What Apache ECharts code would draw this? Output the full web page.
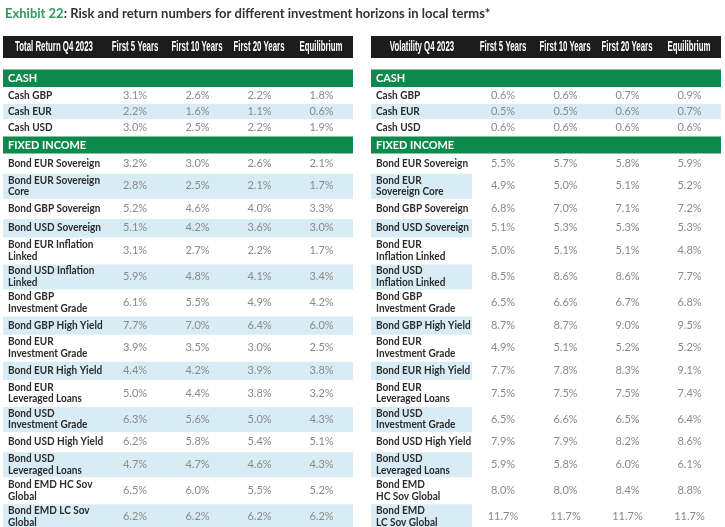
<!DOCTYPE html>
<html>
<head>
<meta charset="utf-8">
<script src="https://cdn.jsdelivr.net/npm/echarts@6/dist/echarts.min.js"></script>
<style>
  html, body { margin: 0; padding: 0; background: #fff; }
  #chart { width: 725px; height: 527px; }
</style>
</head>
<body>
<div id="chart"></div>
<script>
// table contents
const titleLead = 'Exhibit 22'
const titleRest = ': Risk and return numbers for different investment horizons in local terms*'
const tableTitles = ['Total Return Q4 2023', 'Volatility Q4 2023']
const columns = ['First 5 Years', 'First 10 Years', 'First 20 Years', 'Equilibrium']
const sections = ['CASH', 'FIXED INCOME']

const cashLabels = ['Cash GBP', 'Cash EUR', 'Cash USD']
const cashReturn = [
  [3.1, 2.6, 2.2, 1.8],
  [2.2, 1.6, 1.1, 0.6],
  [3.0, 2.5, 2.2, 1.9]
]
const cashVolatility = [
  [0.6, 0.6, 0.7, 0.9],
  [0.5, 0.5, 0.6, 0.7],
  [0.6, 0.6, 0.6, 0.6]
]

const bondLabelsReturn = [
  'Bond EUR Sovereign', 'Bond EUR Sovereign\nCore', 'Bond GBP Sovereign', 'Bond USD Sovereign',
  'Bond EUR Inflation\nLinked', 'Bond USD Inflation\nLinked', 'Bond GBP\nInvestment Grade',
  'Bond GBP High Yield', 'Bond EUR\nInvestment Grade', 'Bond EUR High Yield',
  'Bond EUR\nLeveraged Loans', 'Bond USD\nInvestment Grade', 'Bond USD High Yield',
  'Bond USD\nLeveraged Loans', 'Bond EMD HC Sov\nGlobal', 'Bond EMD LC Sov\nGlobal'
]
const bondLabelsVolatility = [
  'Bond EUR Sovereign', 'Bond EUR\nSovereign Core', 'Bond GBP Sovereign', 'Bond USD Sovereign',
  'Bond EUR\nInflation Linked', 'Bond USD\nInflation Linked', 'Bond GBP\nInvestment Grade',
  'Bond GBP High Yield', 'Bond EUR\nInvestment Grade', 'Bond EUR High Yield',
  'Bond EUR\nLeveraged Loans', 'Bond USD\nInvestment Grade', 'Bond USD High Yield',
  'Bond USD\nLeveraged Loans', 'Bond EMD\nHC Sov Global', 'Bond EMD\nLC Sov Global'
]
const bondReturn = [
  [3.2, 3.0, 2.6, 2.1],
  [2.8, 2.5, 2.1, 1.7],
  [5.2, 4.6, 4.0, 3.3],
  [5.1, 4.2, 3.6, 3.0],
  [3.1, 2.7, 2.2, 1.7],
  [5.9, 4.8, 4.1, 3.4],
  [6.1, 5.5, 4.9, 4.2],
  [7.7, 7.0, 6.4, 6.0],
  [3.9, 3.5, 3.0, 2.5],
  [4.4, 4.2, 3.9, 3.8],
  [5.0, 4.4, 3.8, 3.2],
  [6.3, 5.6, 5.0, 4.3],
  [6.2, 5.8, 5.4, 5.1],
  [4.7, 4.7, 4.6, 4.3],
  [6.5, 6.0, 5.5, 5.2],
  [6.2, 6.2, 6.2, 6.2]
]
const bondVolatility = [
  [5.5, 5.7, 5.8, 5.9],
  [4.9, 5.0, 5.1, 5.2],
  [6.8, 7.0, 7.1, 7.2],
  [5.1, 5.3, 5.3, 5.3],
  [5.0, 5.1, 5.1, 4.8],
  [8.5, 8.6, 8.6, 7.7],
  [6.5, 6.6, 6.7, 6.8],
  [8.7, 8.7, 9.0, 9.5],
  [4.9, 5.1, 5.2, 5.2],
  [7.7, 7.8, 8.3, 9.1],
  [7.5, 7.5, 7.5, 7.4],
  [6.5, 6.6, 6.5, 6.4],
  [7.9, 7.9, 8.2, 8.6],
  [5.9, 5.8, 6.0, 6.1],
  [8.0, 8.0, 8.4, 8.8],
  [11.7, 11.7, 11.7, 11.7]
]

// layout (px)
const tables = [
  { x0: 3, labels: { cash: cashLabels, bond: bondLabelsReturn }, values: { cash: cashReturn, bond: bondReturn }, shadeLabelOnly: false },
  { x0: 371, labels: { cash: cashLabels, bond: bondLabelsVolatility }, values: { cash: cashVolatility, bond: bondVolatility }, shadeLabelOnly: true }
]
const tableWidth = 350
const labelColWidth = 101
const headCenters = [51, 132, 194, 256, 318]
const valueCenters = [132, 194.5, 256.5, 318.5]

const green = '#0b8a4c'
const shade = '#d8ecf6'

// build the row list
const rows = []
let y = 36
rows.push({ kind: 'head', top: y, h: 22 })
y = 69.5
rows.push({ kind: 'section', name: sections[0], top: y, h: 17.5 })
y += 17.5
cashLabels.forEach((_, i) => {
  rows.push({ kind: 'cash', idx: i, top: y, h: 16 })
  y += 16
})
y += 1.5
rows.push({ kind: 'section', name: sections[1], top: y, h: 17 })
y += 17
bondLabelsReturn.forEach((lab, i) => {
  const two = lab.indexOf('\n') >= 0 || bondLabelsVolatility[i].indexOf('\n') >= 0
  const h = two ? 26 : 19.3
  rows.push({ kind: 'bond', idx: i, top: y, h: h })
  y += h
})

const fmt = v => v.toFixed(1) + '%'

function renderItem(params, api) {
  const row = rows[params.dataIndex]
  const children = []
  tables.forEach((t, ti) => {
    const p0 = api.coord([t.x0, row.top])
    const p1 = api.coord([t.x0 + tableWidth, row.top + row.h])
    const w = p1[0] - p0[0]
    const h = p1[1] - p0[1]
    const mid = p0[1] + h / 2
    if (row.kind === 'head') {
      children.push({ type: 'rect', shape: { x: p0[0], y: p0[1], width: w, height: h }, style: { fill: '#1c1c1c' } })
      const names = [tableTitles[ti]].concat(columns)
      names.forEach((n, ci) => {
        children.push({
          type: 'text', x: p0[0] + headCenters[ci], y: mid + 0.5, scaleX: 0.56,
          style: { text: n, fill: '#ffffff', font: 'bold 14px "Liberation Sans"', align: 'center', verticalAlign: 'middle' }
        })
      })
    } else if (row.kind === 'section') {
      children.push({ type: 'rect', shape: { x: p0[0], y: p0[1], width: w, height: h }, style: { fill: green } })
      children.push({
        type: 'text', x: p0[0] + 5, y: mid, scaleX: 0.95,
        style: { text: row.name, fill: '#ffffff', font: 'bold 11.5px Lato', align: 'left', verticalAlign: 'middle' }
      })
    } else {
      const group = row.kind
      const shaded = group === 'cash' ? row.idx === 1 : row.idx % 2 === 1
      if (shaded) {
        const sw = (group === 'bond' && t.shadeLabelOnly) ? labelColWidth : w
        children.push({ type: 'rect', shape: { x: p0[0], y: p0[1] + 1, width: sw, height: h - 1 }, style: { fill: shade } })
      }
      children.push({
        type: 'text', x: p0[0] + 5, y: mid, scaleX: 0.91,
        style: { text: t.labels[group][row.idx], fill: '#2b2b2b', font: 'bold 11px Lato', lineHeight: 11.5, align: 'left', verticalAlign: 'middle' }
      })
      t.values[group][row.idx].forEach((v, ci) => {
        children.push({
          type: 'text', x: p0[0] + valueCenters[ci], y: mid,
          style: { text: fmt(v), fill: '#8a8a8a', font: '11px Lato', align: 'center', verticalAlign: 'middle' }
        })
      })
    }
  })
  return { type: 'group', children: children }
}

const chart = echarts.init(document.getElementById('chart'))
chart.setOption({
  animation: false,
  title: {
    text: '{g|' + titleLead + '}{d|' + titleRest + '}',
    left: 0,
    top: 2,
    textStyle: {
      rich: {
        g: { color: '#2e9a5c', fontSize: 13, fontFamily: 'Lato' },
        d: { color: '#333333', fontSize: 13, fontFamily: 'Lato' }
      }
    }
  },
  grid: { left: 0, right: 0, top: 0, bottom: 0 },
  xAxis: { type: 'value', min: 0, max: 725, show: false },
  yAxis: { type: 'value', min: 0, max: 527, inverse: true, show: false },
  series: [{
    type: 'custom',
    silent: true,
    clip: false,
    renderItem: renderItem,
    data: rows.map((r, i) => [i, r.top])
  }]
})
window.addEventListener('resize', () => {
  chart.resize()
})
</script>
</body>
</html>
